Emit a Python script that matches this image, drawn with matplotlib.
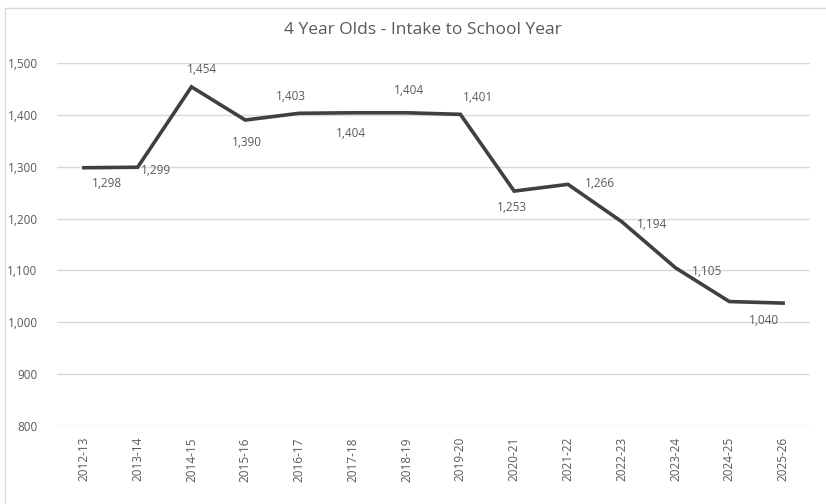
import matplotlib
matplotlib.use('Agg')
import matplotlib.pyplot as plt
from matplotlib.patches import Rectangle
from matplotlib.ticker import FuncFormatter

# data
years = ['2012-13', '2013-14', '2014-15', '2015-16', '2016-17', '2017-18', '2018-19',
         '2019-20', '2020-21', '2021-22', '2022-23', '2023-24', '2024-25', '2025-26']
intake = [1298, 1299, 1454, 1390, 1403, 1404, 1404, 1401, 1253, 1266, 1194, 1105, 1040, 1037]
# label offsets in pixels (dx, dy) for each point, None = no label
label_offsets = [(23, -16), (18, -3), (10, 17), (2, -22), (-8, 17), (-2, -21), (2, 22),
                 (18, 17), (-2, -16), (32, 1), (30, -3), (31, -4), (35, -19), None]

plt.rcParams['font.family'] = ['Open Sans', 'DejaVu Sans']
text_grey = '#595959'

fig = plt.figure(figsize=(8.26, 5.04), dpi=100)
ax = fig.add_axes([57 / 826, 1 - 426 / 504, (810 - 57) / 826, (426 - 63) / 504])

x = list(range(len(years)))
ax.plot(x, intake, color='#404040', lw=2.6, solid_joinstyle='miter', zorder=3)

for xi, v, off in zip(x, intake, label_offsets):
    if off is None:
        continue
    ax.annotate(f'{v:,}', (xi, v), xytext=off, textcoords='offset pixels',
                ha='center', va='center', fontsize=8.5, color=text_grey)

ax.set_xlim(-0.5, len(years) - 0.5)
ax.set_ylim(800, 1500)
ax.set_yticks(range(800, 1501, 100))
ax.yaxis.set_major_formatter(FuncFormatter(lambda v, p: f'{int(v):,}'))
ax.set_xticks(x)
ax.set_xticklabels(years, rotation=90)
ax.tick_params(axis='both', length=0, labelsize=8.5, colors=text_grey)
ax.tick_params(axis='x', pad=8)
ax.tick_params(axis='y', pad=14)
ax.grid(axis='y', color='#d9d9d9', lw=1)
ax.set_axisbelow(True)
for s in ax.spines.values():
    s.set_visible(False)

fig.text(423 / 826, 1 - 30 / 504, '4 Year Olds - Intake to School Year',
         ha='center', va='center', fontsize=12.5, color=text_grey)

# chart area border
fig.patches.append(Rectangle((5 / 826, -0.01), 1.0, 1 - 8 / 504 + 0.01,
                             transform=fig.transFigure, fill=False,
                             edgecolor='#d9d9d9', lw=1))

fig.savefig('out.png', dpi=100)
